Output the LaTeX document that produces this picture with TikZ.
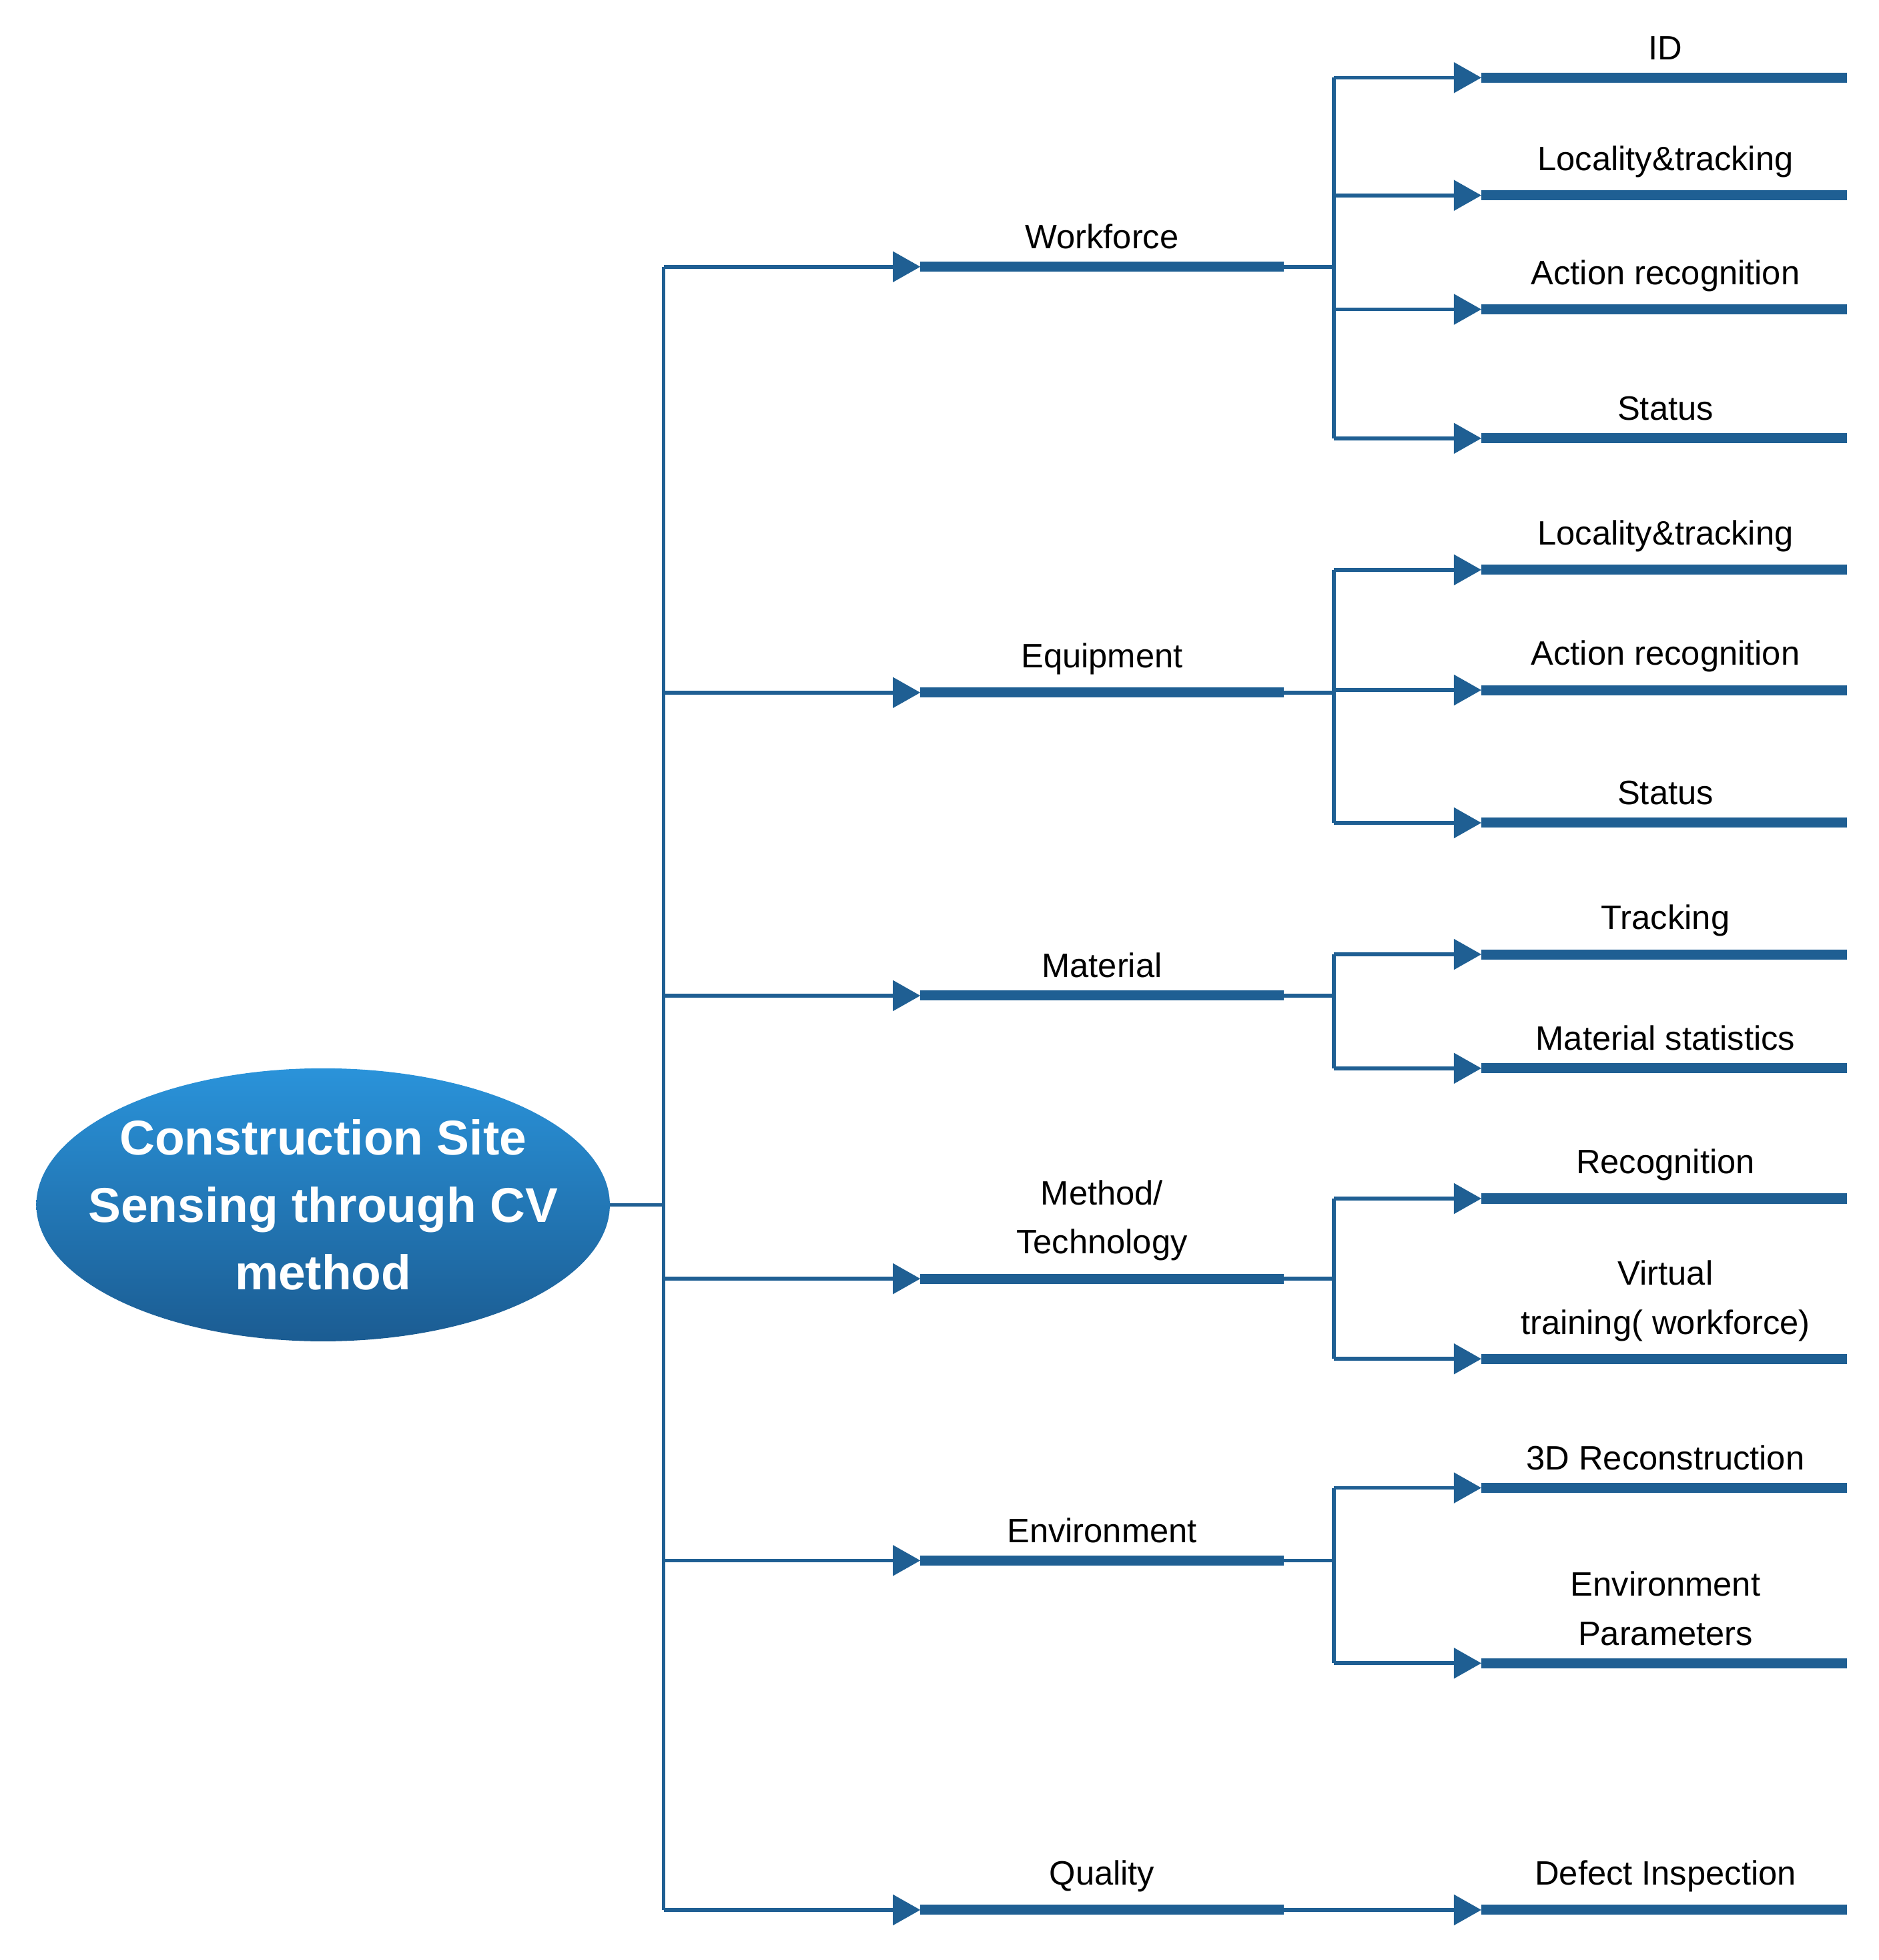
\documentclass[tikz,border=0pt]{standalone}
\usepackage{fontspec}
\setmainfont{Liberation Sans}
\usetikzlibrary{arrows.meta,shapes.geometric}
\definecolor{ln}{HTML}{1F5F93}
\definecolor{elT}{HTML}{2A93DA}
\definecolor{elB}{HTML}{1B5C92}
\tikzset{
 thin/.style={draw=ln,line width=3pt},
 tip/.style={thin,-{Triangle[length=22pt,width=24pt]}},
 bar/.style={draw=ln,line width=8pt},
 lab/.style={font=\fontsize{27}{39}\selectfont,align=center,inner sep=0pt,anchor=south},
}
\begin{document}
\begin{tikzpicture}[x=1pt,y=-1pt]
\useasboundingbox (0,0) rectangle (1500,1565);
\shade[top color=elT,bottom color=elB] (258,962) ellipse [x radius=229pt,y radius=109pt];
\node[text=white,font=\bfseries\fontsize{39}{54}\selectfont,align=center,inner sep=0pt] (root) at (258,962) {Construction Site\\Sensing through CV\\method};
\coordinate (rootE) at (487,962);
\coordinate (tc) at (530,962);
\coordinate (tt) at (530,213);
\coordinate (tb) at (530,1525);
\draw[thin] (rootE) -- (tc);
\draw[thin] (tt) -- (tb);
\foreach \y/\n/\t in {213/wf/Workforce,553/eq/Equipment,795/ma/Material,1021/me/{Method/\\Technology},1246/en/Environment,1525/qu/Quality}{
  \coordinate (\n s) at (530,\y);
  \coordinate (\n a) at (735,\y);
  \coordinate (\n e) at (1025,\y);
  \draw[tip] (\n s) -- (\n a);
  \draw[bar] (\n a) -- (\n e);
  \node[lab] (\n l) at (880,\y-14) {\t};
}
\foreach \p/\top/\bot in {wf/62/350,eq/455/657,ma/762/853,me/957/1085,en/1188/1328}{
  \coordinate (\p j) at (1065,\top);
  \coordinate (\p k) at (1065,\bot);
  \draw[thin] (\p e) -- (\p e -| \p j);
  \draw[thin] (\p j) -- (\p k);
}
\foreach \p/\y/\n/\t in {
 wf/62/w1/ID, wf/156/w2/Locality\&tracking, wf/247/w3/Action recognition, wf/350/w4/Status,
 eq/455/e1/Locality\&tracking, eq/551/e2/Action recognition, eq/657/e3/Status,
 ma/762/m1/Tracking, ma/853/m2/Material statistics,
 me/957/t1/Recognition, me/1085/t2/{Virtual\\training( workforce)},
 en/1188/n1/3D Reconstruction, en/1328/n2/{Environment\\Parameters}}{
  \coordinate (\n s) at (1065,\y);
  \coordinate (\n a) at (1183,\y);
  \coordinate (\n e) at (1475,\y);
  \draw[tip] (\n s) -- (\n a);
  \draw[bar] (\n a) -- (\n e);
  \node[lab] (\n l) at (1330,\y-14) {\t};
}
\coordinate (q1a) at (1183,1525);
\coordinate (q1e) at (1475,1525);
\draw[tip] (que) -- (q1a);
\draw[bar] (q1a) -- (q1e);
\node[lab] (q1l) at (1330,1511) {Defect Inspection};
\end{tikzpicture}
\end{document}
